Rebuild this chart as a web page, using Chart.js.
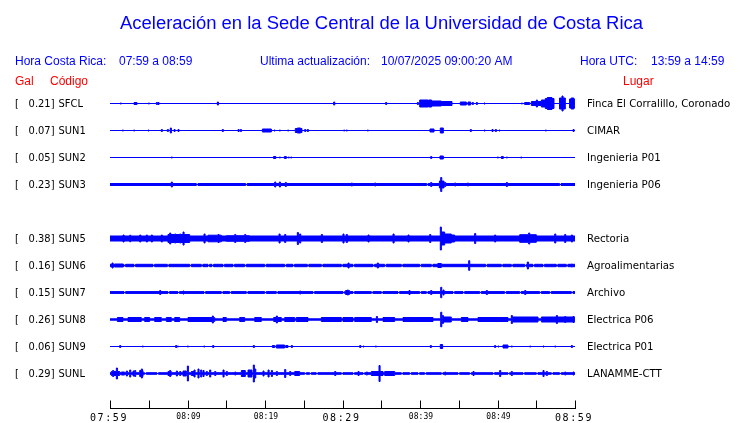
<!DOCTYPE html>
<html><head><meta charset="utf-8">
<script src="https://cdn.jsdelivr.net/npm/chart.js@4.4.1/dist/chart.umd.min.js"></script>
<style>html,body{margin:0;padding:0;background:#fff;overflow:hidden}#wrap{width:740px;height:423px}</style>
</head><body><div id="wrap"><canvas id="c" width="740" height="423"></canvas></div>
<script>
// ---------- data ----------
const titleText = 'Aceleración en la Sede Central de la Universidad de Costa Rica';
const tickMinutes = [0,5,10,15,20,25,30,35,40,45,50,55,60];
const tickLabels = ['07:59','','08:09','','08:19','','08:29','','08:39','','08:49','','08:59'];
const majorLabels = ['07:59','08:29','08:59'];
const stationCodes = ['SFCL','SUN1','SUN2','SUN3','SUN5','SUN6','SUN7','SUN8','SUN9','SUNL'];
const stationGal = ['0.21','0.07','0.05','0.23','0.38','0.16','0.15','0.26','0.06','0.29'];
const stationPlaces = ['Finca El Corralillo, Coronado','CIMAR','Ingenieria P01','Ingenieria P06','Rectoria','Agroalimentarias','Archivo','Electrica P06','Electrica P01','LANAMME-CTT'];
const stationRows = [0,1,2,3,5,6,7,8,9,10];

// background amplitude of each trace (relative units)
const baseAmp = [0,0,0,1.5,3,1.7,1.4,1.2,0,1.3];

// bursts: [start minute, end minute, amplitude]
const sfclBursts = [[3.10,3.48,1.5],[39.96,41.03,4],[41.03,41.55,3],[41.1,41.5,4],[41.55,42.75,3],[42.75,44.13,2.5],[45.2,45.98,2],[46.19,46.54,2],[53.5,54.15,1.5],[54.37,55.0,2.5],[55.23,55.66,2.5],[55.66,56.17,4],[56.17,57.29,5.5],[56.43,57.03,6.5],[58.0,58.75,6],[59.3,59.96,5],[59.5,59.85,6]];
const sun1Bursts = [[19.66,20.82,2],[23.91,24.77,2.5],[24.17,24.6,3],[41.29,41.81,2],[42.62,43.01,3]];
const sun2Bursts = [[21.1,21.4,1.5],[22.5,22.75,1.5],[42.58,43.01,2],[50.5,50.75,1.5]];
const sun3Bursts = [[11.14,11.35,0.5],[17.5,17.7,0.5],[40.86,41.03,0.5],[58.0,58.2,0.5],[42.5,43.1,4]];
const sun5Bursts = [[7.48,10.28,4.5],[12.65,14.37,3.8],[15.0,18.0,3.3],[42.75,43.18,7],[43.18,44.04,5],[44.04,44.47,4],[52.86,55.01,4.3]];
const sun6Bursts = [[0.6,1.68,2],[42.3,42.75,2.5]];
const sun7Bursts = [[30.4,30.9,2.5]];
const sun8Bursts = [[0.95,1.68,2.5],[2.32,4.04,2.5],[4.47,5.12,2.5],[5.76,6.62,2.5],[7.27,7.91,2.5],[8.34,8.99,2.5],[10.06,13.51,2.5],[14.58,15.01,2.5],[16.73,17.38,2.5],[18.67,19.53,2.5],[21.12,22.11,2.5],[22.54,23.83,2.5],[24.04,25.55,2.5],[27.27,29.85,2.5],[30.06,31.35,2.5],[31.57,33.72,2.5],[35.23,36.73,2.5],[37.81,41.68,2.5],[42.97,44.04,3],[45.33,46.19,2.5],[47.48,51.35,2.5],[52.0,55.23,3],[55.66,59.96,3]];
const sun9Bursts = [[20.95,21.25,1.5],[21.46,22.54,2],[22.67,22.97,1.5],[42.62,42.92,2.5],[50.71,51.35,2]];
const sunlBursts = [[0.17,1.25,2.5],[1.46,1.89,2],[3.83,4.26,3.5],[7.48,7.91,2.5],[9.42,9.85,3],[10.49,10.92,2.5],[16.95,17.46,3.5],[17.81,18.32,4],[23.83,24.47,2.5],[33.72,35.23,2.5],[35.44,36.73,2.5]];

// spikes: [minute, amplitude]
const sfclSpikes = [[1.33,1],[4.95,1],[5.98,1.5],[6.19,1.5],[13.85,2],[28.86,2],[35.57,1.5],[39.66,1.5],[46.75,1.5],[47.27,1.5],[48.26,1],[53.08,1],[55.01,4],[58.32,8]];
const sun1Spikes = [[1.59,1],[3.05,1],[4.9,1],[6.62,1.5],[7.4,1.5],[7.78,3],[8.26,1.5],[8.77,1.5],[14.49,1.5],[16.52,1.5],[16.82,1.5],[21.16,1],[21.85,1],[22.92,1],[25.12,1.5],[25.46,1.5],[30.15,1],[30.49,1],[33.2,1],[46.49,1.5],[48.26,1],[49.29,1.5],[49.72,1.5],[50.19,1],[56.17,1],[59.74,1.5]];
const sun2Spikes = [[7.91,1],[21.85,1],[23.0,1],[23.31,1],[41.38,1.5],[49.98,1],[51.14,1],[52.99,1]];
const sun3Spikes = [[7.91,3],[21.25,3],[21.85,3],[22.62,2.5],[31.14,2],[34.15,2],[41.38,2.5],[42.67,7.5],[42.92,4],[43.18,2.5],[44.47,2],[46.11,2],[51.14,2.5]];
const sun5Spikes = [[1.68,4],[2.54,3.8],[3.83,4],[4.69,4],[5.33,4],[6.62,4],[7.7,6],[8.34,5],[8.99,5],[9.42,7],[12.13,5],[13.94,4.5],[16.09,4.5],[17.38,4.5],[21.81,5],[22.54,4.5],[24.17,6.5],[24.47,5],[27.27,4.5],[30.06,5],[30.49,4.5],[33.29,4],[36.52,5],[38.45,4],[41.25,4.5],[42.62,12],[47.05,5.5],[49.63,4],[54.02,6],[57.38,5],[58.67,4.5],[59.53,4]];
const sun6Spikes = [[0.26,3],[30.71,3],[34.49,3],[46.28,5.3],[53.85,4],[59.53,2]];
const sun7Spikes = [[6.41,2.5],[9.42,2],[24.47,2],[30.62,3],[38.58,2.5],[41.38,2.5],[42.67,5.7],[42.97,3],[48.56,2.5],[53.51,2.5]];
const sun8Spikes = [[13.2,4],[21.46,4],[34.37,3.5],[42.67,7.8],[42.88,4.5],[51.78,4.5],[57.59,4.5],[58.67,3.5],[59.74,3.5]];
const sun9Spikes = [[1.25,1.5],[4.17,1],[8.47,1.5],[8.69,1],[9.98,1],[12.09,1],[13.25,1.5],[18.49,1.5],[23.4,1.5],[32.22,1.5],[32.65,1],[34.24,1],[41.33,1.5],[49.63,1.5],[50.06,1],[51.78,1],[54.15,1],[55.87,1],[57.38,1],[59.53,1.5]];
const sunlSpikes = [[0.34,3.5],[0.82,6],[2.11,3],[2.54,4],[2.97,3],[3.18,3.5],[4.04,5],[7.7,3.5],[8.56,3],[8.99,2.5],[9.98,8],[10.84,4],[11.35,5],[11.7,4],[12.0,3.5],[12.43,2.5],[12.86,4],[13.51,2.5],[14.58,4],[15.01,2.5],[16.09,2],[18.49,9],[18.67,5],[19.74,3],[20.39,4],[20.82,3.5],[21.46,2.5],[22.54,4.5],[23.18,2.5],[28.99,2.5],[32.0,2.5],[33.08,2],[34.71,8.5],[43.18,2],[46.84,2.5],[50.28,3.5],[51.78,2.5],[55.87,3.5],[56.3,2.5],[58.67,2],[59.74,2]];

// quiet gaps (minute where the band thins out)
const sun6Gaps = [1.81,3.1,5.55,7.4,10.28,11.78,12.65,13.16,14.58,15.87,17.38,19.96,22.54,23.61,25.46,27.27,29.85,31.35,33.94,35.44,37.59,39.96,41.46,48.47,50.49,51.78,53.51,54.58,55.87,57.59,58.88];
const sun7Gaps = [1.81,7.48,8.77,12.13,14.37,15.44,17.59,19.96,21.46,26.19,30.06,31.35,33.72,35.01,37.16,39.96,40.82,44.26,45.55,47.7,50.92,52.86,55.44,56.73,59.53];
const sunlGaps = [4.47,6.06,25.12,25.76,26.62,29.85,31.35,32.65,37.59,38.67,39.74,40.6,42.75,44.9,46.41,49.42,51.35,53.29,55.01,56.95,58.02];

const burstsAll = [sfclBursts,sun1Bursts,sun2Bursts,sun3Bursts,sun5Bursts,sun6Bursts,sun7Bursts,sun8Bursts,sun9Bursts,sunlBursts];
const spikesAll = [sfclSpikes,sun1Spikes,sun2Spikes,sun3Spikes,sun5Spikes,sun6Spikes,sun7Spikes,sun8Spikes,sun9Spikes,sunlSpikes];
const gapsAll = [[],[],[],[],[],sun6Gaps,sun7Gaps,[],[],sunlGaps];

// ---------- build ----------
const BLUE = '#0000ff', RED = '#ff0000';
const ROW_PX = 27, SPIKE_W = 0.14, GAP_W = 0.2, GAP_AMP = 0.5;
const T0 = 0, T1 = 60;

function envelope(base, bursts, spikes, gaps) {
  const ev = [];
  bursts.forEach(b => ev.push(b));
  spikes.forEach(([m, a]) => ev.push([m, m + SPIKE_W, a]));
  gaps.forEach(m => ev.push([m, m + GAP_W, GAP_AMP]));
  const set = new Set([T0, T1]);
  ev.forEach(([s, e]) => { set.add(Math.max(T0, Math.min(T1, s))); set.add(Math.max(T0, Math.min(T1, e))); });
  const b = [...set].sort((p, q) => p - q);
  const pts = [];
  for (let i = 0; i < b.length - 1; i++) {
    const mid = (b[i] + b[i + 1]) / 2;
    let a = null;
    ev.forEach(([s, e, v]) => { if (mid >= s && mid < e) a = (a === null) ? v : Math.max(a, v); });
    if (a === null) a = base;
    pts.push([b[i], a]);
  }
  pts.push([T1, pts[pts.length - 1][1]]);
  return pts;
}
const half = a => Math.max(0, a - 0.5) / ROW_PX;

const datasets = [];
stationCodes.forEach((code, i) => {
  const row = stationRows[i];
  const env = envelope(baseAmp[i], burstsAll[i], spikesAll[i], gapsAll[i]);
  const common = { borderColor: BLUE, backgroundColor: BLUE, borderWidth: 1, pointRadius: 0, stepped: true, tension: 0, borderJoinStyle: 'miter' };
  datasets.push(Object.assign({ label: code + ' +', data: env.map(([x, a]) => ({ x, y: row - half(a) })), fill: false }, common));
  datasets.push(Object.assign({ label: code + ' -', data: env.map(([x, a]) => ({ x, y: row + half(a) })), fill: '-1' }, common));
});

const TOP = 89, BOTTOM = 408, LEFT = 110, RIGHT = 575, W = 740, H = 423;
const yMin = -14.5 / ROW_PX;
const yMax = yMin + (BOTTOM - TOP) / ROW_PX;

function txt(ctx, s, x, y, o) {
  ctx.save();
  ctx.font = o.font; ctx.fillStyle = o.color || '#000'; ctx.textBaseline = 'alphabetic';
  if ('letterSpacing' in ctx) ctx.letterSpacing = (o.spacing || 0) + 'px';
  let sx = o.sx || 1;
  if (o.width) sx = o.width / ctx.measureText(s).width;
  ctx.translate(x, y); ctx.scale(sx, 1);
  ctx.textAlign = o.align || 'left';
  ctx.fillText(s, 0, 0);
  ctx.restore();
}

const decor = {
  id: 'decor',
  afterDraw(chart) {
    const ctx = chart.ctx, xs = chart.scales.x, ys = chart.scales.y;
    const arial = '"Liberation Sans", Arial, sans-serif';
    txt(ctx, titleText, 381.5, 29, { font: '18px ' + arial, color: BLUE, align: 'center', width: 523 });
    txt(ctx, 'Hora Costa Rica:', 15, 65, { font: '12px ' + arial, color: BLUE });
    txt(ctx, tickLabels[0] + ' a ' + tickLabels[12], 119, 65, { font: '12px ' + arial, color: BLUE });
    txt(ctx, 'Ultima actualización:', 260, 65, { font: '12px ' + arial, color: BLUE });
    txt(ctx, '10/07/2025 09:00:20 AM', 381, 65, { font: '12px ' + arial, color: BLUE });
    txt(ctx, 'Hora UTC:', 580, 65, { font: '12px ' + arial, color: BLUE });
    txt(ctx, '13:59 a 14:59', 651, 65, { font: '12px ' + arial, color: BLUE });
    txt(ctx, 'Gal', 15, 85, { font: '12px ' + arial, color: RED });
    txt(ctx, 'Código', 50, 85, { font: '12px ' + arial, color: RED });
    txt(ctx, 'Lugar', 623, 85, { font: '12px ' + arial, color: RED });

    const lab = '11px "DejaVu Sans", sans-serif';
    stationCodes.forEach((code, i) => {
      const y = Math.floor(ys.getPixelForValue(stationRows[i])) + 4;
      txt(ctx, '[', 15, y, { font: lab, sx: 0.9 });
      txt(ctx, stationGal[i] + ']', 54.5, y, { font: lab, sx: 0.9, align: 'right' });
      txt(ctx, code, 58.5, y, { font: lab, sx: 0.9 });
      txt(ctx, stationPlaces[i], 587, y, { font: lab, sx: 0.93 });
    });

    // time axis
    ctx.save();
    ctx.strokeStyle = '#000'; ctx.lineWidth = 1;
    ctx.beginPath();
    const ay = chart.chartArea.bottom + 0.5;
    ctx.moveTo(Math.round(xs.getPixelForValue(T0)), ay);
    ctx.lineTo(Math.round(xs.getPixelForValue(T1)) + 1, ay);
    tickMinutes.forEach(m => {
      const x = Math.round(xs.getPixelForValue(m)) + 0.5;
      ctx.moveTo(x, ay - 8); ctx.lineTo(x, ay);
    });
    ctx.stroke();
    ctx.restore();
    tickMinutes.forEach((m, i) => {
      const s = tickLabels[i];
      if (!s) return;
      const x = xs.getPixelForValue(m);
      if (majorLabels.includes(s)) {
        txt(ctx, s, x - 1, 420.5, { font: '10px "DejaVu Sans Mono", monospace', spacing: 1.6, align: 'center' });
      } else {
        txt(ctx, s, x + 1, 419, { font: '8px "DejaVu Sans Mono", monospace', spacing: 0.1, align: 'center' });
      }
    });
  }
};

new Chart(document.getElementById('c'), {
  type: 'line',
  data: { datasets },
  options: {
    responsive: false, animation: false, devicePixelRatio: 1,
    layout: { padding: { left: LEFT, right: W - RIGHT, top: TOP, bottom: H - BOTTOM } },
    scales: {
      x: { type: 'linear', min: T0, max: T1, display: false },
      y: { type: 'linear', reverse: true, min: yMin, max: yMax, display: false }
    },
    plugins: { legend: { display: false }, tooltip: { enabled: false }, title: { display: false } },
    elements: { line: { capBezierPoints: false } }
  },
  plugins: [decor]
});
</script>
</body></html>
